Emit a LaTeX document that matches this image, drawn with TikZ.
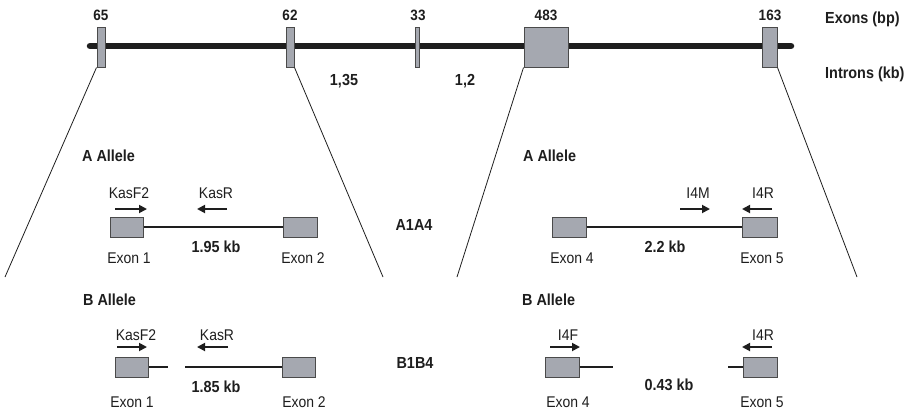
\documentclass[tikz,border=0pt]{standalone}
\usepackage{fontspec}
\setmainfont{Liberation Sans}[FakeStretch=0.9]
\usetikzlibrary{arrows.meta}
\definecolor{exfill}{HTML}{A5A8B0}
\definecolor{exdraw}{HTML}{4A4A4A}
\definecolor{ink}{HTML}{1E1E1E}
\begin{document}
\begin{tikzpicture}[x=1pt,y=-1pt,
  exbox/.style={draw=exdraw,fill=exfill,line width=1pt,inner sep=0pt},
  lab/.style={font=\fontsize{15.5}{17}\selectfont,anchor=base,text=ink,inner sep=0pt},
  blab/.style={font=\fontsize{16}{18}\selectfont\bfseries,anchor=base,text=ink,inner sep=0pt},
  numlab/.style={font=\fontsize{15}{17}\selectfont\bfseries,anchor=base,text=ink,inner sep=0pt},
  intron/.style={draw=ink,line width=1.8pt},
  zoomline/.style={draw=ink,line width=0.8pt},
  primer/.style={draw=ink,line width=1.8pt,-{Triangle[length=8pt,width=8pt]}}
]
\useasboundingbox (0,0) rectangle (910,410);

% backbone
\coordinate (bbL) at (90,46);
\coordinate (bbR) at (791,46);
\draw[line width=6.5pt,line cap=round,ink] (bbL) -- (bbR);

% top exons
\node[exbox,minimum width=8pt,minimum height=40pt] (t1) at (101,47) {};
\node[exbox,minimum width=8pt,minimum height=40pt] (t2) at (290,47) {};
\node[exbox,minimum width=4pt,minimum height=40pt] (t3) at (417,47) {};
\node[exbox,minimum width=44pt,minimum height=40pt] (t4) at (546,47) {};
\node[exbox,minimum width=15pt,minimum height=40pt] (t5) at (769.5,47) {};

\node[numlab] (n1) at (101,20) {65};
\node[numlab] (n2) at (290,20) {62};
\node[numlab] (n3) at (418,20) {33};
\node[numlab] (n4) at (546,20) {483};
\node[numlab] (n5) at (770,20) {163};

\node[blab,anchor=base west] (exbp) at (825,23) {Exons (bp)};
\node[blab,anchor=base west] (inkb) at (825,78) {Introns (kb)};
\node[blab] (i2) at (344,85) {1,35};
\node[blab] (i3) at (465,85) {1,2};

% zoom lines
\coordinate (z1) at (5,277);
\coordinate (z2) at (383,277);
\coordinate (z3) at (457,277);
\coordinate (z4) at (857,277);
\draw[zoomline] (t1.south west) -- (z1);
\draw[zoomline] (t2.south east) -- (z2);
\draw[zoomline] (t4.south west) -- (z3);
\draw[zoomline] (t5.south east) -- (z4);

% ---------- A allele, left ----------
\node[blab,anchor=base west] (aal) at (82,161) {A Allele};
\node[exbox,minimum width=33pt,minimum height=20pt] (a1) at (126.5,227) {};
\node[exbox,minimum width=34pt,minimum height=20pt] (a2) at (300,227) {};
\draw[intron] (a1.east) -- (a2.west);
\node[lab] (kf2a) at (129,198) {KasF2};
\node[lab] (kra) at (216,198) {KasR};
\coordinate (pa1s) at (115,209); \coordinate (pa1e) at (147,209);
\coordinate (pa2s) at (227,209); \coordinate (pa2e) at (197,209);
\draw[primer] (pa1s) -- (pa1e);
\draw[primer] (pa2s) -- (pa2e);
\node[blab] (kb195) at (216,252) {1.95 kb};
\node[lab] (ex1a) at (129,263) {Exon 1};
\node[lab] (ex2a) at (303,263) {Exon 2};
\node[blab] (a1a4) at (414,230) {A1A4};

% ---------- A allele, right ----------
\node[blab,anchor=base west] (aar) at (523,161) {A Allele};
\node[exbox,minimum width=34pt,minimum height=20pt] (a4) at (569,227) {};
\node[exbox,minimum width=35pt,minimum height=20pt] (a5) at (759.5,227) {};
\draw[intron] (a4.east) -- (a5.west);
\node[lab] (i4m) at (698,198) {I4M};
\node[lab] (i4ra) at (763,198) {I4R};
\coordinate (pa3s) at (680,209); \coordinate (pa3e) at (710,209);
\coordinate (pa4s) at (772,209); \coordinate (pa4e) at (742,209);
\draw[primer] (pa3s) -- (pa3e);
\draw[primer] (pa4s) -- (pa4e);
\node[blab] (kb22) at (665,252) {2.2 kb};
\node[lab] (ex4a) at (572,263) {Exon 4};
\node[lab] (ex5a) at (762,263) {Exon 5};

% ---------- B allele, left ----------
\node[blab,anchor=base west] (bal) at (83,305) {B Allele};
\node[exbox,minimum width=33pt,minimum height=20pt] (b1) at (131.5,367) {};
\node[exbox,minimum width=33pt,minimum height=20pt] (b2) at (298.5,367) {};
\coordinate (b1t) at (168,367);
\coordinate (b2t) at (185,367);
\draw[intron] (b1.east) -- (b1t);
\draw[intron] (b2t) -- (b2.west);
\node[lab] (kf2b) at (136,340) {KasF2};
\node[lab] (krb) at (217,340) {KasR};
\coordinate (pb1s) at (117,347); \coordinate (pb1e) at (147,347);
\coordinate (pb2s) at (228,347); \coordinate (pb2e) at (197,347);
\draw[primer] (pb1s) -- (pb1e);
\draw[primer] (pb2s) -- (pb2e);
\node[blab] (kb185) at (216,392) {1.85 kb};
\node[lab] (ex1b) at (132,407) {Exon 1};
\node[lab] (ex2b) at (304,407) {Exon 2};
\node[blab] (b1b4) at (415,368) {B1B4};

% ---------- B allele, right ----------
\node[blab,anchor=base west] (bar) at (522,305) {B Allele};
\node[exbox,minimum width=34pt,minimum height=20pt] (b4) at (562,367) {};
\node[exbox,minimum width=34pt,minimum height=20pt] (b5) at (760,367) {};
\coordinate (b4t) at (613,367);
\coordinate (b5t) at (728,367);
\draw[intron] (b4.east) -- (b4t);
\draw[intron] (b5t) -- (b5.west);
\node[lab] (i4f) at (568,340) {I4F};
\node[lab] (i4rb) at (763,340) {I4R};
\coordinate (pb3s) at (550,347); \coordinate (pb3e) at (580,347);
\coordinate (pb4s) at (772,347); \coordinate (pb4e) at (742,347);
\draw[primer] (pb3s) -- (pb3e);
\draw[primer] (pb4s) -- (pb4e);
\node[blab] (kb043) at (669,390) {0.43 kb};
\node[lab] (ex4b) at (568,407) {Exon 4};
\node[lab] (ex5b) at (762,407) {Exon 5};
\end{tikzpicture}
\end{document}
